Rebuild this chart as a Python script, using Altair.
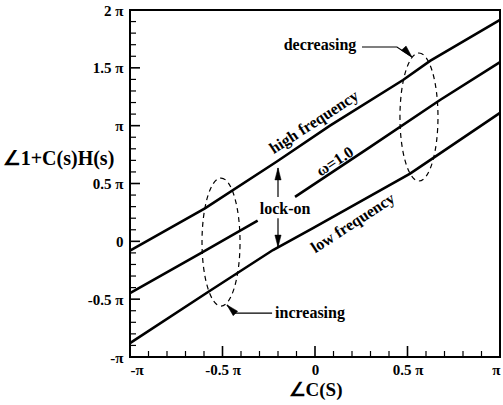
import altair as alt
import pandas as pd

# All angles in units of pi
high_x = [-1.0, -0.595, -0.206, 0.081, 0.476, 0.622, 1.0]
high_y = [-0.08, 0.285, 0.69, 1.0, 1.395, 1.56, 1.914]

mid1_x = [-1.0, -0.605, -0.31]
mid1_y = [-0.447, -0.092, 0.18]
mid2_x = [-0.108, 0.297, 0.676, 1.0]
mid2_y = [0.385, 0.815, 1.222, 1.55]

low_x = [-1.0, -0.578, -0.227, -0.011, 0.514, 0.638, 1.0]
low_y = [-0.88, -0.438, -0.075, 0.115, 0.585, 0.72, 1.11]

# tick values
x_major = [-1.0, -0.5, 0.0, 0.5, 1.0]
y_major = [-1.0, -0.5, 0.0, 0.5, 1.0, 1.5, 2.0]
x_minor = [-0.9, -0.8, -0.7, -0.6, -0.4, -0.3, -0.2, -0.1,
           0.1, 0.2, 0.3, 0.4, 0.6, 0.7, 0.8, 0.9]
y_minor = [-0.9, -0.8, -0.7, -0.6, -0.4, -0.3, -0.2, -0.1,
           0.1, 0.2, 0.3, 0.4, 0.6, 0.7, 0.8, 0.9,
           1.1, 1.2, 1.3, 1.4, 1.6, 1.7, 1.8, 1.9]

# annotations
ellipse_x = [-0.508, 0.562]
ellipse_y = [-0.006, 1.075]

label_text = ["high frequency", "\u03c9=1.0", "low frequency"]
label_x = [-0.005, 0.108, 0.205]
label_y = [1.03, 0.69, 0.158]

note_text = ["decreasing", "increasing", "lock-on"]
note_x = [0.027, -0.027, -0.162]
note_y = [1.70, -0.62, 0.28]

dec_arrow_x = [0.254, 0.443, 0.524]
dec_arrow_y = [1.68, 1.68, 1.594]
inc_arrow_x = [-0.232, -0.432, -0.476]
inc_arrow_y = [-0.62, -0.62, -0.55]
lock_up_y = [0.383, 0.635]
lock_dn_y = [0.20, -0.05]
lock_x = -0.2

FONT = "'Liberation Serif', 'Times New Roman', Times, serif"

xs = alt.Scale(domain=[-1, 1], nice=False, zero=False)
ys = alt.Scale(domain=[-1, 2], nice=False, zero=False)

lbl = ("datum.value==0?'0':datum.value==1?'\u03c0':datum.value==-1?'-\u03c0':"
       "datum.value==2?'2 \u03c0':datum.value+' \u03c0'")

rows = []
for sid, (xx, yy) in enumerate([(high_x, high_y), (mid1_x, mid1_y), (mid2_x, mid2_y), (low_x, low_y)]):
    for i, (a, b) in enumerate(zip(xx, yy)):
        rows.append({"seg": sid, "i": i, "x": a, "y": b})
curves = pd.DataFrame(rows)

X = alt.X("x:Q", scale=xs, axis=alt.Axis(values=x_major, labelExpr=lbl, ticks=False, domain=False,
                                           grid=False, labelFont=FONT, labelFontWeight="bold",
                                           labelFontSize=15, labelColor="black", labelPadding=5,
                                           title="\u2220C(S)", titleFont=FONT, titleFontSize=19,
                                           titleFontWeight="bold", titleColor="black", titlePadding=3))
Y = alt.Y("y:Q", scale=ys, axis=alt.Axis(values=y_major, labelExpr=lbl, ticks=False, domain=False,
                                           grid=False, labelFont=FONT, labelFontWeight="bold",
                                           labelFontSize=15, labelColor="black", labelPadding=7,
                                           title="\u22201+C(s)H(s)", titleFont=FONT, titleFontSize=20,
                                           titleFontWeight="bold", titleColor="black", titleAngle=0,
                                           titleAlign="center", titleBaseline="middle",
                                           titleX=-72, titleY=148))

lines = alt.Chart(curves).mark_line(color="black", strokeWidth=2.6).encode(
    x=X, y=Y, detail="seg:N", order="i:Q")

# ticks (inward)
xticks_major = alt.Chart(pd.DataFrame({"x": x_major})).mark_rule(color="black", strokeWidth=1.6).encode(
    x=alt.X("x:Q", scale=xs), y=alt.value(347), y2=alt.value(336))
xticks_minor = alt.Chart(pd.DataFrame({"x": x_minor})).mark_rule(color="black", strokeWidth=1.2).encode(
    x=alt.X("x:Q", scale=xs), y=alt.value(347), y2=alt.value(341))
yticks_major = alt.Chart(pd.DataFrame({"y": y_major})).mark_rule(color="black", strokeWidth=1.6).encode(
    y=alt.Y("y:Q", scale=ys), x=alt.value(0), x2=alt.value(10))
yticks_minor = alt.Chart(pd.DataFrame({"y": y_minor})).mark_rule(color="black", strokeWidth=1.2).encode(
    y=alt.Y("y:Q", scale=ys), x=alt.value(0), x2=alt.value(6))

# frame
frame = alt.Chart(pd.DataFrame({"a": [0]})).mark_rect(
    fill=None, stroke="black", strokeWidth=2).encode(
    x=alt.value(0), x2=alt.value(370), y=alt.value(0), y2=alt.value(347))

# ellipses (dashed)
a = 0.297
k = 0.5523
ell = (f"M0,-1 C{k*a:.4f},-1 {a},-{k} {a},0 C{a},{k} {k*a:.4f},1 0,1 "
       f"C-{k*a:.4f},1 -{a},{k} -{a},0 C-{a},-{k} -{k*a:.4f},-1 0,-1 Z")
ellipses = alt.Chart(pd.DataFrame({"x": ellipse_x, "y": ellipse_y})).mark_point(
    shape=ell, size=16384, filled=False, stroke="black", strokeWidth=1.2,
    strokeDash=[5, 4], opacity=1).encode(x=alt.X("x:Q", scale=xs), y=alt.Y("y:Q", scale=ys))

# rotated curve labels
curve_labels = alt.Chart(pd.DataFrame({"t": label_text, "x": label_x, "y": label_y})).mark_text(
    font=FONT, fontSize=16, fontWeight="bold", angle=327, color="black").encode(
    x=alt.X("x:Q", scale=xs), y=alt.Y("y:Q", scale=ys), text="t:N")

notes = alt.Chart(pd.DataFrame({"t": note_text, "x": note_x, "y": note_y})).mark_text(
    font=FONT, fontSize=16, fontWeight="bold", color="black").encode(
    x=alt.X("x:Q", scale=xs), y=alt.Y("y:Q", scale=ys), text="t:N")

# arrows
arrows_df = pd.DataFrame({
    "g": ["d"] * 3 + ["i"] * 3 + ["u"] * 2 + ["w"] * 2,
    "i": [0, 1, 2, 0, 1, 2, 0, 1, 0, 1],
    "x": dec_arrow_x + inc_arrow_x + [lock_x, lock_x] + [lock_x, lock_x],
    "y": dec_arrow_y + inc_arrow_y + lock_up_y + lock_dn_y,
})
arrow_lines = alt.Chart(arrows_df).mark_line(color="black", strokeWidth=1.2).encode(
    x=alt.X("x:Q", scale=xs), y=alt.Y("y:Q", scale=ys), detail="g:N", order="i:Q")

HEAD = "M0,0 L0.26,1 L-0.26,1 Z"


def head(hx, hy, ang):
    return alt.Chart(pd.DataFrame({"x": [hx], "y": [hy]})).mark_point(
        shape=HEAD, size=576, filled=True, fill="black", stroke="black", strokeWidth=0.5,
        opacity=1, angle=ang).encode(x=alt.X("x:Q", scale=xs), y=alt.Y("y:Q", scale=ys))


heads = [
    head(dec_arrow_x[2], dec_arrow_y[2], 137),
    head(inc_arrow_x[2], inc_arrow_y[2], 315),
    head(lock_x, lock_up_y[1], 0),
    head(lock_x, lock_dn_y[1], 180),
]

chart = alt.layer(lines, ellipses, arrow_lines, *heads, curve_labels, notes,
                  xticks_major, xticks_minor, yticks_major, yticks_minor, frame).properties(
    width=370, height=347,
    autosize=alt.AutoSizeParams(type="none"),
    padding={"left": 130, "top": 10, "right": 3, "bottom": 48},
).configure_view(stroke=None).configure(background="white")

chart.save("out.html", embed_options={"renderer": "svg", "actions": False})
